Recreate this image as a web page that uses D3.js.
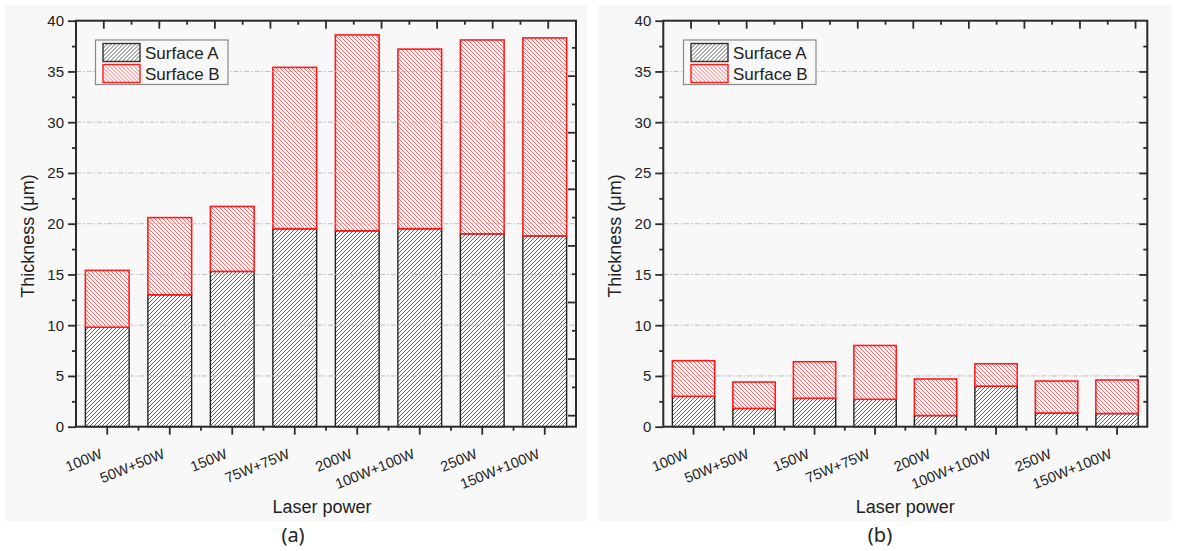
<!DOCTYPE html>
<html>
<head>
<meta charset="utf-8">
<script src="https://cdn.jsdelivr.net/npm/d3@7"></script>
<style>
  html, body { margin: 0; padding: 0; background: #ffffff; }
  svg { display: block; }
</style>
</head>
<body>
<svg id="chart" width="1178" height="551"></svg>
<script>
// ---------------- DATA ----------------
const categories = ["100W", "50W+50W", "150W", "75W+75W", "200W", "100W+100W", "250W", "150W+100W"];
const seriesNames = ["Surface A", "Surface B"];
// Panel (a)
const surfaceA_a = [9.8, 13.0, 15.3, 19.5, 19.3, 19.5, 19.0, 18.8];
const surfaceB_a = [5.6, 7.6, 6.4, 15.9, 19.3, 17.7, 19.1, 19.5];
// Panel (b)
const surfaceA_b = [3.0, 1.8, 2.8, 2.7, 1.1, 4.0, 1.35, 1.3];
const surfaceB_b = [3.5, 2.6, 3.6, 5.3, 3.6, 2.2, 3.15, 3.3];
const yTicks = [0, 5, 10, 15, 20, 25, 30, 35, 40];
const yMinorTicks = [2.5, 7.5, 12.5, 17.5, 22.5, 27.5, 32.5, 37.5];
const gridValues = [5, 10, 15, 20, 25, 30, 35];
const xTitle = "Laser power";
const yTitle = "Thickness (μm)";
const captions = ["(a)", "(b)"];

// ---------------- LAYOUT ----------------
const svg = d3.select("#chart");
const FONT = "'Liberation Sans', Arial, sans-serif";
const AXIS = "#2b2b2b";

const panels = [
  { A: surfaceA_a, B: surfaceB_a, caption: captions[0],
    bg: [5, 5, 582, 516], left: 76, right: 576, top: 20.7, bottom: 426.7,
    ylabX: 34, xlabShift: -4, capX: 293, legend: [95.5, 40], rightMode: "offset" },
  { A: surfaceA_b, B: surfaceB_b, caption: captions[1],
    bg: [598, 5, 574, 516], left: 663.3, right: 1147.3, top: 20.7, bottom: 426.7,
    ylabX: 621, xlabShift: 0, capX: 880, legend: [683.5, 40], rightMode: "same" }
];

// patterns
const defs = svg.append("defs");
function hatch(id, color, dir, width) {
  const p = defs.append("pattern").attr("id", id)
    .attr("patternUnits", "userSpaceOnUse").attr("width", 4).attr("height", 4);
  p.append("rect").attr("width", 4).attr("height", 4).attr("fill", "#fcfcfc");
  const d = dir === "up"
    ? "M-1,1 l2,-2 M0,4 l4,-4 M3,5 l2,-2"
    : "M-1,3 l2,2 M0,0 l4,4 M3,-1 l2,2";
  p.append("path").attr("d", d).attr("stroke", color).attr("stroke-width", width);
}
hatch("hatchA", "#5c5c5c", "up", 0.95);
hatch("hatchB", "#ff5a5a", "down", 0.9);

const fills = ["url(#hatchA)", "url(#hatchB)"];
const strokes = ["#222222", "#ff1a1a"];

panels.forEach((P) => {
  const g = svg.append("g");
  // panel background
  g.append("rect").attr("x", P.bg[0]).attr("y", P.bg[1]).attr("width", P.bg[2]).attr("height", P.bg[3])
    .attr("fill", "#f8f8f8");

  const x = d3.scaleBand().domain(categories).range([P.left, P.right]).paddingInner(0.3).paddingOuter(0.15);
  const xb = d3.scaleBand().domain(categories).range([P.left, P.right]);
  const y = d3.scaleLinear().domain([0, 40]).range([P.bottom, P.top]);

  const rows = categories.map((c, i) => ({ cat: c, "Surface A": P.A[i], "Surface B": P.B[i] }));
  const stacked = d3.stack().keys(seriesNames)(rows);

  // bars
  stacked.forEach((layer, li) => {
    g.append("g").selectAll("rect").data(layer).join("rect")
      .attr("x", d => x(d.data.cat))
      .attr("width", x.bandwidth())
      .attr("y", d => y(d[1]))
      .attr("height", d => y(d[0]) - y(d[1]))
      .attr("fill", fills[li])
      .attr("stroke", strokes[li])
      .attr("stroke-width", li === 0 ? 1.4 : 1.6);
  });

  // grid lines (drawn over bars, visible through hatch)
  g.append("g").selectAll("line").data(gridValues).join("line")
    .attr("x1", P.left).attr("x2", P.right)
    .attr("y1", d => y(d)).attr("y2", d => y(d))
    .attr("stroke", "#b5b5b5").attr("stroke-width", 1)
    .attr("stroke-dasharray", "5,2,1.5,2").attr("opacity", 0.85);

  // left axis
  const yAxis = d3.axisLeft(y).tickValues(yTicks).tickSize(8).tickPadding(4).tickFormat(d3.format("d"));
  const ga = g.append("g").attr("transform", `translate(${P.left},0)`).call(yAxis);
  ga.select(".domain").remove();
  ga.selectAll(".tick line").attr("stroke", AXIS).attr("stroke-width", 1.8);
  ga.selectAll(".tick text").attr("font-family", FONT).attr("font-size", 15).attr("fill", "#222");
  const gam = g.append("g").attr("transform", `translate(${P.left},0)`)
    .call(d3.axisLeft(y).tickValues(yMinorTicks).tickSize(4).tickFormat(""));
  gam.select(".domain").remove();
  gam.selectAll(".tick line").attr("stroke", AXIS).attr("stroke-width", 1.8);

  // bottom axis: major at centers, minor at band boundaries
  const gb = g.append("g").attr("transform", `translate(0,${P.bottom})`)
    .call(d3.axisBottom(xb).tickSize(8).tickFormat(""));
  gb.select(".domain").remove();
  gb.selectAll(".tick line").attr("stroke", AXIS).attr("stroke-width", 1.8);
  const bounds = d3.range(1, categories.length).map(i => xb(categories[i]));
  g.append("g").selectAll("line").data(bounds).join("line")
    .attr("x1", d => d).attr("x2", d => d).attr("y1", P.bottom).attr("y2", P.bottom + 4)
    .attr("stroke", AXIS).attr("stroke-width", 1.8);
  // rotated tick labels
  g.append("g").selectAll("text").data(categories).join("text")
    .attr("transform", d => `translate(${xb(d) + xb.bandwidth() / 2 - 4},${P.bottom + 31}) rotate(-22)`)
    .attr("text-anchor", "end")
    .attr("font-family", FONT).attr("font-size", 14.5).attr("fill", "#222")
    .text(d => d);

  // top axis (mirror with its own spacing)
  const topScale = d3.scaleLinear().domain([0, 9]).range([P.left, P.left + 500]);
  const topMajor = d3.range(0.5, 9, 1).filter(v => topScale(v) < P.right - 2);
  const topMinor = d3.range(1, 9, 1).filter(v => topScale(v) < P.right - 2);
  g.append("g").selectAll("line").data(topMajor).join("line")
    .attr("x1", d => topScale(d)).attr("x2", d => topScale(d)).attr("y1", P.top).attr("y2", P.top + 8)
    .attr("stroke", AXIS).attr("stroke-width", 1.8);
  g.append("g").selectAll("line").data(topMinor).join("line")
    .attr("x1", d => topScale(d)).attr("x2", d => topScale(d)).attr("y1", P.top).attr("y2", P.top + 4)
    .attr("stroke", AXIS).attr("stroke-width", 1.8);

  // right axis
  if (P.rightMode === "same") {
    const gr = g.append("g").attr("transform", `translate(${P.right},0)`)
      .call(d3.axisLeft(y).tickValues(yTicks.slice(1, -1)).tickSize(8).tickFormat(""));
    gr.select(".domain").remove();
    gr.selectAll(".tick line").attr("stroke", AXIS).attr("stroke-width", 1.8);
    const grm = g.append("g").attr("transform", `translate(${P.right},0)`)
      .call(d3.axisLeft(y).tickValues(yMinorTicks).tickSize(4).tickFormat(""));
    grm.select(".domain").remove();
    grm.selectAll(".tick line").attr("stroke", AXIS).attr("stroke-width", 1.8);
  } else {
    const rScale = d3.scaleLinear().domain([-0.39, 13.96]).range([P.bottom, P.top]);
    const rt = d3.range(0, 14);
    g.append("g").selectAll("line").data(rt).join("line")
      .attr("x1", P.right).attr("x2", d => P.right - (d % 2 === 0 ? 8 : 4))
      .attr("y1", d => rScale(d)).attr("y2", d => rScale(d))
      .attr("stroke", AXIS).attr("stroke-width", 1.8);
  }

  // frame
  g.append("rect").attr("x", P.left).attr("y", P.top)
    .attr("width", P.right - P.left).attr("height", P.bottom - P.top)
    .attr("fill", "none").attr("stroke", AXIS).attr("stroke-width", 2);

  // axis titles
  g.append("text").attr("x", (P.left + P.right) / 2 + P.xlabShift).attr("y", 513)
    .attr("text-anchor", "middle").attr("font-family", FONT).attr("font-size", 18).attr("fill", "#222")
    .text(xTitle);
  g.append("text").attr("transform", `translate(${P.ylabX},236) rotate(-90)`)
    .attr("text-anchor", "middle").attr("font-family", FONT).attr("font-size", 18).attr("fill", "#222")
    .text(yTitle);

  // caption
  g.append("text").attr("x", P.capX).attr("y", 542).attr("text-anchor", "middle")
    .attr("font-family", "'Noto Sans', 'Liberation Sans', sans-serif").attr("font-style", "normal")
    .attr("font-size", 20).attr("fill", "#222")
    .text(P.caption);

  // legend
  const [lx, ly] = P.legend;
  const lg = g.append("g").attr("transform", `translate(${lx},${ly})`);
  lg.append("rect").attr("width", 132.5).attr("height", 44.5).attr("fill", "#f8f8f8")
    .attr("stroke", "#8a8a8a").attr("stroke-width", 1.2);
  seriesNames.forEach((s, i) => {
    lg.append("rect").attr("x", 7.5).attr("y", 3.5 + i * 21).attr("width", 37).attr("height", 18)
      .attr("fill", fills[i]).attr("stroke", i === 0 ? "#333" : "#ff1a1a").attr("stroke-width", 1.4);
    lg.append("text").attr("x", 49.5).attr("y", 19 + i * 20.5)
      .attr("font-family", FONT).attr("font-size", 17).attr("fill", "#222").text(s);
  });
});
</script>
</body>
</html>
